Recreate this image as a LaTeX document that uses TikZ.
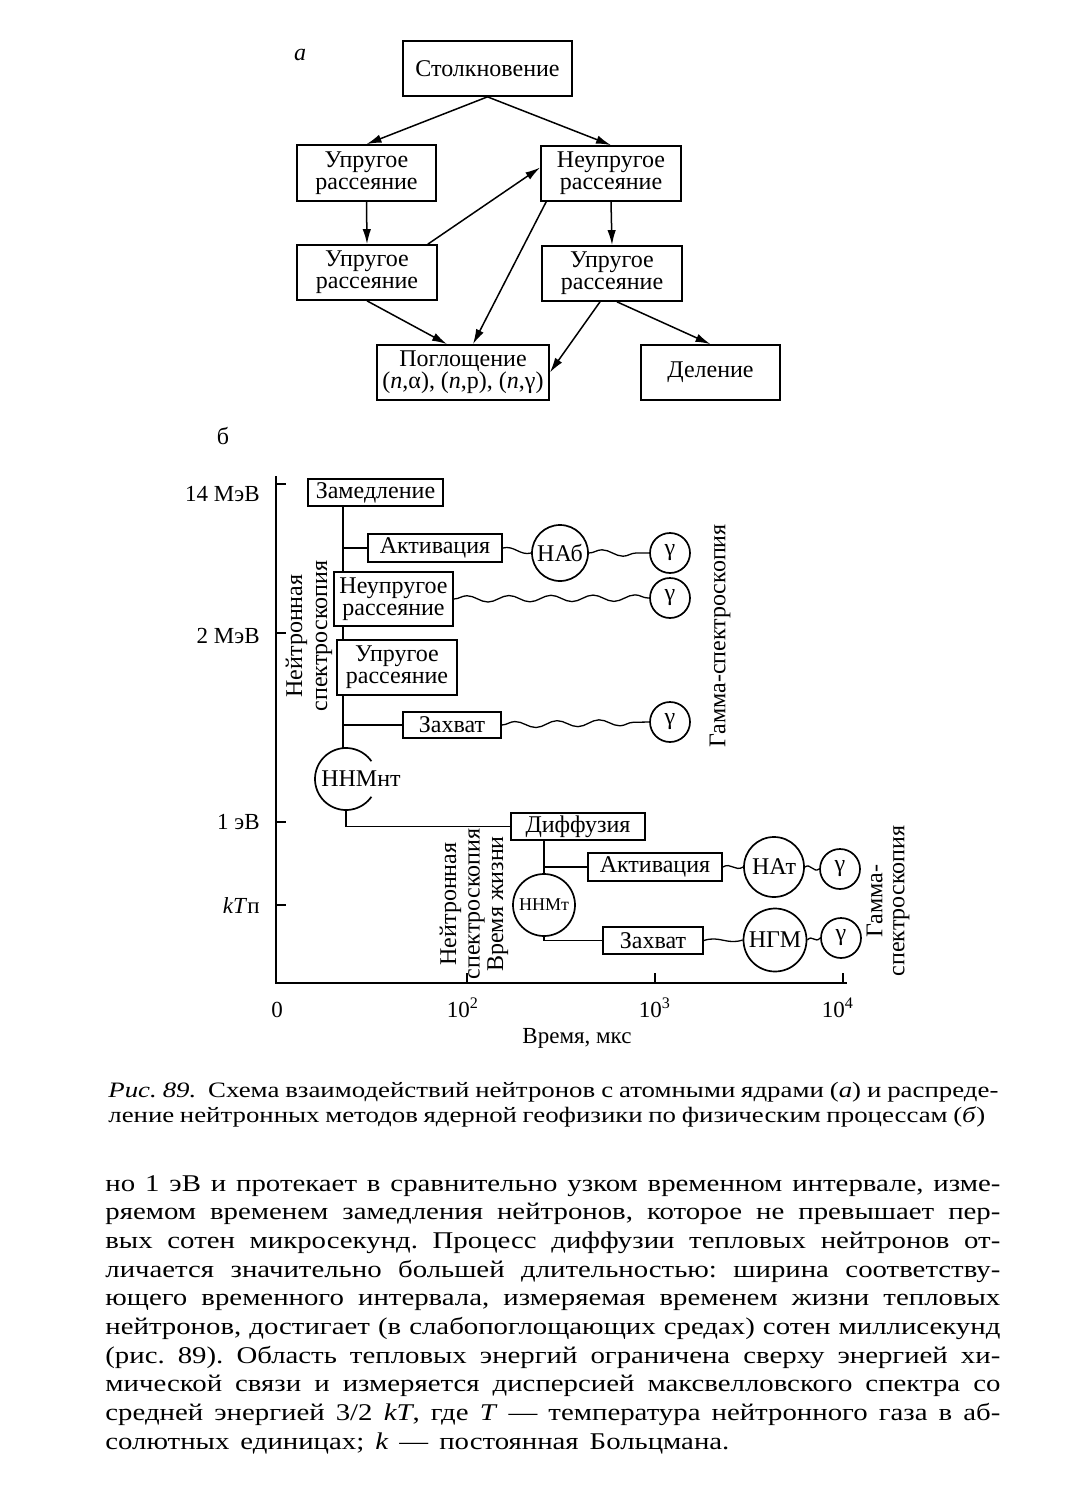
\documentclass[tikz,border=0pt]{standalone}
\usepackage{fontspec}
\setmainfont{Liberation Serif}
\newfontfamily\bodyf{Liberation Serif}[FakeStretch=1.2]
\newfontfamily\capf{Liberation Serif}[FakeStretch=1.22]
\usetikzlibrary{arrows.meta,decorations.pathmorphing,calc}
\frenchspacing
\tikzset{
  box/.style={draw, line width=0.85pt, inner sep=0pt, align=center, font=\fontsize{12}{11}\selectfont},
  circ/.style={draw, circle, line width=0.85pt, inner sep=0pt, font=\fontsize{12}{12}\selectfont},
  arr/.style={-{Latex[length=7.5pt,width=4.2pt]}, line width=0.75pt},
  conn/.style={line width=0.75pt},
  axis/.style={line width=1pt},
  wavy/.style={decorate, decoration={snake, segment length=21pt, amplitude=1.6pt}, line width=0.65pt},
  rot/.style={rotate=90, align=center, inner sep=0pt},
  lbl/.style={inner sep=0pt, font=\fontsize{11.5}{12}\selectfont},
  bodyline/.style={anchor=base west, inner sep=0pt, font=\bodyf\fontsize{12}{14}\selectfont},
  capline/.style={anchor=base west, inner sep=0pt, font=\capf\fontsize{11}{12}\selectfont},
}
\newcommand\swave[2]{\draw[conn, line width=0.65pt] (#1) .. controls ($(#1)!0.4!(#2)+(0,-5)$) and ($(#1)!0.6!(#2)+(0,5)$) .. (#2);}
\begin{document}
\begin{tikzpicture}[x=0.5pt, y=-0.5pt]
\fill[white] (0,0) rectangle (1082,1487);
\useasboundingbox (0,0) rectangle (1082,1487);

% ---------------- part a ----------------
\node[inner sep=0pt, font=\itshape\fontsize{12}{12}\selectfont] (la) at (300,55) {а};
\node[box, minimum width=84.5pt, minimum height=27.5pt] (stolk) at (487.5,68.5) {Столкновение};
\node[box, minimum width=69.5pt, minimum height=28pt] (up1) at (366.5,173) {Упругое\\рассеяние};
\node[box, minimum width=70pt, minimum height=27.5pt] (neup) at (611,173.5) {Неупругое\\рассеяние};
\node[box, minimum width=70pt, minimum height=27.5pt] (up2) at (367,272.5) {Упругое\\рассеяние};
\node[box, minimum width=70pt, minimum height=27.5pt] (up3) at (612,273.5) {Упругое\\рассеяние};
\node[box, minimum width=86pt, minimum height=27.5pt] (pogl) at (463,372.5) {Поглощение\\(\textit{n},α), (\textit{n},p), (\textit{n},γ)};
\node[box, minimum width=69.5pt, minimum height=27.5pt] (del) at (710.5,372.5) {Деление};

\draw[arr] (stolk.south) -- (up1.north);
\draw[arr] (stolk.south) -- (neup.north);
\draw[arr] (up1.south) -- (up2.north);
\draw[arr] ([xshift=-5pt]up2.north east) -- ([yshift=3pt]neup.west);
\draw[arr] ([xshift=3pt]neup.south west) -- ([xshift=5pt]pogl.north);
\draw[arr] (neup.south) -- (up3.north);
\draw[arr] (up2.south) -- ([xshift=-8pt]pogl.north);
\draw[arr] ([xshift=-6pt]up3.south) -- (pogl.east);
\draw[arr] ([xshift=2.5pt]up3.south) -- (del.north);

% ---------------- part b ----------------
\node[inner sep=0pt, font=\fontsize{12}{12}\selectfont] (lb) at (223,436) {б};

% axes
\draw[axis] (276,476) -- (276,983) -- (847,983);
\draw[axis] (276,484) -- (286,484);
\draw[axis] (276,633) -- (286,633);
\draw[axis] (276,822) -- (286,822);
\draw[axis] (276,905) -- (286,905);
\draw[axis] (467,983) -- (467,973);
\draw[axis] (655,983) -- (655,973);
\draw[axis] (843,983) -- (843,973);

\node[lbl, anchor=east] (e14) at (260,494) {14 МэВ};
\node[lbl, anchor=east] (e2) at (260,636) {2 МэВ};
\node[lbl, anchor=east] (e1) at (260,822.5) {1 эВ};
\node[lbl, anchor=east] (ekt) at (260,905.5) {\textit{kT}п};
\node[lbl] (t0) at (277,1010) {0};
\node[lbl] (t2) at (463,1008) {10\textsuperscript{2}};
\node[lbl] (t3) at (655,1008) {10\textsuperscript{3}};
\node[lbl] (t4) at (838,1008) {10\textsuperscript{4}};
\node[lbl] (tlab) at (577,1038) {Время, мкс};

% boxes
\node[box, minimum width=67.5pt, minimum height=13.5pt] (zam) at (375.5,492.5) {Замедление};
\node[box, minimum width=67pt, minimum height=14pt] (akt1) at (435,548) {Активация};
\node[box, minimum width=59.5pt, minimum height=27pt] (neup2) at (393.5,599) {Неупругое\\рассеяние};
\node[box, minimum width=60pt, minimum height=27.5pt] (upr2) at (397,667.5) {Упругое\\рассеяние};
\node[box, minimum width=49pt, minimum height=13pt] (zah1) at (452,725) {Захват};
\node[box, minimum width=67pt, minimum height=13.5pt] (diff) at (578,826.5) {Диффузия};
\node[box, minimum width=67pt, minimum height=14pt] (akt2) at (655,867) {Активация};
\node[box, minimum width=50pt, minimum height=13.5pt] (zah2) at (653,940.5) {Захват};

% circles
\node[circ, minimum size=28pt] (nab) at (560,553) {НАб};
\node[circ, minimum size=20pt] (g1) at (670,553) {γ};
\node[circ, minimum size=20pt] (g2) at (670,598) {γ};
\node[circ, minimum size=20pt] (g3) at (670,722) {γ};
\node[circle, inner sep=0pt, minimum size=31pt] (nnmnt) at (346,779) {};
\draw[line width=0.85pt] plot[domain=35:325, samples=60, smooth] ({346+31*cos(\x)}, {779-31*sin(\x)});
\node[inner sep=0pt, font=\fontsize{12}{12}\selectfont] (nnmnttxt) at (361,779) {ННМнт};
\node[circ, minimum size=30pt] (nat) at (774,867) {НАт};
\node[circ, minimum size=20pt] (g4) at (840,869) {γ};
\node[circ, minimum size=31pt, font=\fontsize{9}{9}\selectfont] (nnmt) at (544,905) {ННМт};
\node[circ, minimum size=31.5pt] (ngm) at (775,940) {НГМ};
\node[circ, minimum size=20pt] (g5) at (841,938) {γ};

% trunk lines
\coordinate (ta) at ([xshift=18pt]zam.south west);
\draw[conn] (ta) -- (ta |- neup2.north);
\draw[conn] (ta |- akt1.west) -- (akt1.west);
\draw[conn] (ta |- neup2.south) -- (ta |- upr2.north);
\draw[conn] (ta |- upr2.south) -- (ta |- nnmnt.north);
\draw[conn] (ta |- zah1.west) -- (zah1.west);
\draw[conn] (nnmnt.south) |- (diff.west);
\coordinate (tb) at ([xshift=17pt]diff.south west);
\draw[conn] (tb) -- (tb |- nnmt.north);
\draw[conn] (tb |- akt2.west) -- (akt2.west);
\draw[conn] (nnmt.south) |- (zah2.west);

% wavy lines
\draw[wavy] (neup2.east) -- (g2.west);
\draw[wavy] (nab.east) -- (g1.west);
\draw[wavy] (zah1.east) -- (g3.west);
\swave{akt1.east}{nab.west}
\swave{akt2.east}{nat.west}
\swave{nat.east}{g4.west}
\swave{zah2.east}{ngm.west}
\swave{ngm.east}{g5.west}

% rotated labels
\node[rot, font=\fontsize{12}{12.5}\selectfont] (ns1) at (309,636) {Нейтронная\\спектроскопия};
\node[rot, font=\fontsize{12}{12.5}\selectfont] (gs1) at (720,636) {Гамма-спектроскопия};
\node[rot, font=\fontsize{12}{11.75}\selectfont] (ns2) at (474,904) {Нейтронная\\спектроскопия\\Время жизни};
\node[rot, font=\fontsize{12}{11}\selectfont] (gs2) at (888,901) {Гамма-\\спектроскопия};

% ---------------- caption ----------------
\node[capline] (c1) at (108,1097) {\makebox[445pt][s]{\textit{Рис. 89.}\ \ Схема взаимодействий нейтронов с атомными ядрами (\textit{а}) и распреде-}};
\node[capline] (c2) at (108,1122) {\makebox[438.5pt][s]{ление нейтронных методов ядерной геофизики по физическим процессам (\textit{б})}};

% ---------------- body text ----------------
\node[bodyline] (b1) at (105,1191) {\makebox[447.5pt][s]{но 1 эВ и протекает в сравнительно узком временном интервале, изме-}};
\node[bodyline] (b2) at (105,1219.7) {\makebox[447.5pt][s]{ряемом временем замедления нейтронов, которое не превышает пер-}};
\node[bodyline] (b3) at (105,1248.4) {\makebox[447.5pt][s]{вых сотен микросекунд. Процесс диффузии тепловых нейтронов от-}};
\node[bodyline] (b4) at (105,1277.1) {\makebox[447.5pt][s]{личается значительно большей длительностью: ширина соответству-}};
\node[bodyline] (b5) at (105,1305.8) {\makebox[447.5pt][s]{ющего временного интервала, измеряемая временем жизни тепловых}};
\node[bodyline] (b6) at (105,1334.5) {\makebox[447.5pt][s]{нейтронов, достигает (в слабопоглощающих средах) сотен миллисекунд}};
\node[bodyline] (b7) at (105,1363.2) {\makebox[447.5pt][s]{(рис. 89). Область тепловых энергий ограничена сверху энергией хи-}};
\node[bodyline] (b8) at (105,1391.9) {\makebox[447.5pt][s]{мической связи и измеряется дисперсией максвелловского спектра со}};
\node[bodyline] (b9) at (105,1420.6) {\makebox[447.5pt][s]{средней энергией 3/2 \textit{kT}, где \textit{T} — температура нейтронного газа в аб-}};
\node[bodyline] (b10) at (105,1449.3) {\makebox[312pt][s]{солютных единицах; \textit{k} — постоянная Больцмана.}};
\end{tikzpicture}
\end{document}
